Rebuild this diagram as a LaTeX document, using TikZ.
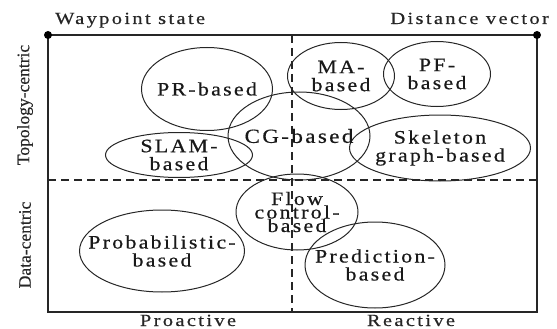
\documentclass[tikz,border=0pt]{standalone}
\usepackage{fontspec}
\setmainfont{Liberation Serif}
\newfontfamily\spaced{Liberation Serif}[LetterSpace=12,FakeStretch=1.15,FakeBold=0.6]
\newfontfamily\axisfont{Liberation Serif}[LetterSpace=14,FakeStretch=1.2,FakeBold=0.5]
\newfontfamily\sidefont{Liberation Serif}[FakeBold=0.4]
\usetikzlibrary{shapes.geometric}
\tikzset{
  frameline/.style={line width=1.4pt, draw=black!85},
  dashline/.style={line width=1.2pt, draw=black!85, dash pattern=on 8pt off 5pt},
  blob/.style={ellipse, draw=black!85, line width=1pt, inner sep=0pt},
  blobtext/.style={align=center, inner sep=0pt, text=black!90,
    font=\spaced\fontsize{19}{18}\selectfont},
  axislabel/.style={text=black!85, font=\axisfont\fontsize{17}{17}\selectfont, inner sep=0pt},
  sidelabel/.style={text=black!85, font=\sidefont\fontsize{17.5}{17.5}\selectfont, inner sep=0pt, rotate=90},
  enddot/.style={circle, fill=black, inner sep=0pt, minimum size=8pt}
}
\begin{document}
\begin{tikzpicture}[x=1pt,y=-1pt]
\useasboundingbox (0,0) rectangle (557,329);
% frame corners
\coordinate (tl) at (48,35);
\coordinate (tr) at (537,35);
\coordinate (bl) at (48,312);
\coordinate (br) at (537,312);
\coordinate (hl) at (48,180);
\coordinate (hr) at (537,180);
\coordinate (vt) at (292,35);
\coordinate (vb) at (292,312);
% dashed dividers
\draw[dashline] (hl) -- (hr);
\draw[dashline] (vt) -- (vb);
% frame
\draw[frameline] (tl) -- (tr) -- (br) -- (bl) -- cycle;
\node[enddot] (dl) at (tl) {};
\node[enddot] (dr) at (tr) {};
% axis labels
\node[axislabel, anchor=base west] (wp) at (55,24) {Waypoint state};
\node[axislabel, anchor=base east] (dv) at (549,24) {Distance vector};
\node[axislabel, anchor=base] (pro) at (188,326) {Proactive};
\node[axislabel, anchor=base] (rea) at (411,326) {Reactive};
\node[sidelabel] (topo) at (25,105) {Topology-centric};
\node[sidelabel] (data) at (25,245) {Data-centric};
% ellipses
\node[blob, minimum width=131pt, minimum height=83pt] (pr) at (207,89) {};
\node[blob, minimum width=147pt, minimum height=45pt] (slam) at (179,155) {};
\node[blob, minimum width=142pt, minimum height=88pt] (cg) at (299,136) {};
\node[blob, minimum width=107pt, minimum height=67pt] (ma) at (341,76) {};
\node[blob, minimum width=107pt, minimum height=65pt] (pf) at (437,74) {};
\node[blob, minimum width=181pt, minimum height=66pt] (sk) at (440,148) {};
\node[blob, minimum width=122pt, minimum height=76pt] (flow) at (297,212) {};
\node[blob, minimum width=165pt, minimum height=82pt] (prob) at (162,251) {};
\node[blob, minimum width=140pt, minimum height=86pt] (pred) at (375,265) {};
% ellipse labels
\node[blobtext] (prt) at (pr) {PR-based};
\node[blobtext] (slamt) at (slam) {SLAM-\\based};
\node[blobtext, font=\spaced\fontsize{20}{18}\selectfont] (cgt) at (cg) {CG-based};
\node[blobtext] (mat) at (ma) {MA-\\based};
\node[blobtext] (pft) at (pf) {PF-\\based};
\node[blobtext] (skt) at (sk) {Skeleton\\graph-based};
\node[blobtext, font=\spaced\fontsize{19}{13.5}\selectfont] (flowt) at (flow) {Flow\\control-\\based};
\node[blobtext] (probt) at (prob) {Probabilistic-\\based};
\node[blobtext] (predt) at (pred) {Prediction-\\based};
\end{tikzpicture}
\end{document}
